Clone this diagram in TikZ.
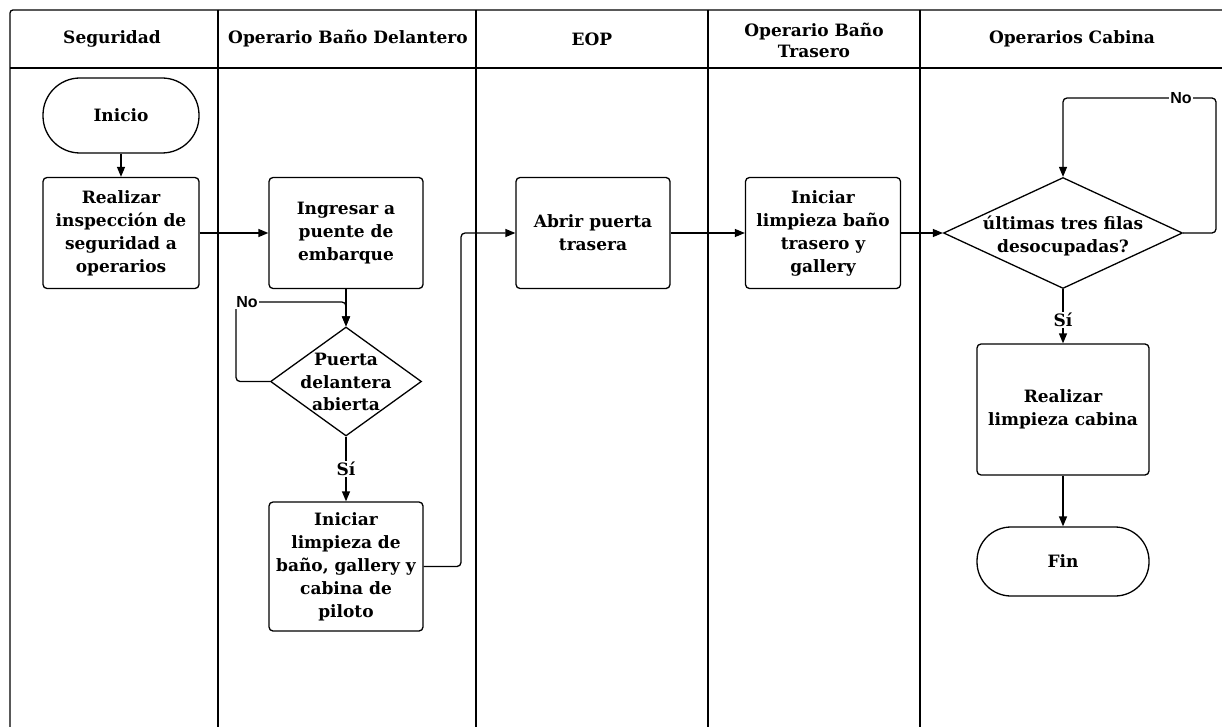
\documentclass[tikz,border=0pt]{standalone}
\usepackage{fontspec}
\setmainfont{DejaVu Serif}
\newfontfamily\labelsans{Liberation Sans}
\usetikzlibrary{arrows.meta,shapes.geometric}
\begin{document}
\begin{tikzpicture}[x=1pt,y=-1pt,
  lane/.style={line width=1.3pt},
  headtext/.style={align=center,inner sep=0pt,font=\bfseries\fontsize{17}{21}\selectfont},
  procbox/.style={draw,line width=1.3pt,rounded corners=4pt,align=center,inner sep=0pt,
    font=\bfseries\fontsize{17}{23}\selectfont},
  termbox/.style={procbox},
  decbox/.style={draw,diamond,line width=1.3pt,inner sep=0pt},
  dectext/.style={align=center,inner sep=0pt,font=\bfseries\fontsize{17}{22.5}\selectfont},
  flow/.style={line width=1.3pt,-{Triangle[length=10pt,width=8pt]},rounded corners=4pt},
  yeslabel/.style={fill=white,inner sep=1pt,font=\bfseries\fontsize{17}{19}\selectfont},
  nolabel/.style={fill=white,inner sep=1pt,font=\labelsans\bfseries\fontsize{16}{18}\selectfont}
]
\clip (0,0) rectangle (1222,727);
\fill[white] (0,0) rectangle (1222,727);

% swimlane frame and header row
\draw[lane,rounded corners=3pt] (10,760) -- (10,10) -- (1240,10);
\draw[lane] (10,68) -- (1240,68);
\foreach \xx in {218,476,708,920}
  \draw[lane] (\xx,10) -- (\xx,760);

\node[headtext] (h1) at (112,39) {Seguridad};
\node[headtext] (h2) at (348,39) {Operario Baño Delantero};
\node[headtext] (h3) at (592,39) {EOP};
\node[headtext] (h4) at (814,40) {Operario Baño\\Trasero};
\node[headtext] (h5) at (1072,39) {Operarios Cabina};

% Seguridad lane
\node[termbox,rounded corners=37pt,minimum width=156pt,minimum height=75pt] (inicio) at (121,115.5) {Inicio};
\node[procbox,minimum width=156pt,minimum height=111pt] (realizar) at (121,233) {Realizar\\inspección de\\seguridad a\\operarios};

% Operario Baño Delantero lane
\node[procbox,minimum width=154pt,minimum height=111pt] (ingresar) at (346,233) {Ingresar a\\puente de\\embarque};
\node[decbox,minimum width=151pt,minimum height=109pt] (d1) at (346,381.5) {};
\node[dectext] (d1t) at (346,382) {Puerta\\delantera\\abierta};
\node[procbox,minimum width=154pt,minimum height=129pt] (limpia1) at (346,566.5) {Iniciar\\limpieza de\\baño, gallery y\\cabina de\\piloto};

% EOP lane
\node[procbox,minimum width=154pt,minimum height=111pt] (abrir) at (593,233) {Abrir puerta\\trasera};

% Operario Baño Trasero lane
\node[procbox,minimum width=155pt,minimum height=111pt] (trasero) at (823,233) {Iniciar\\limpieza baño\\trasero y\\gallery};

% Operarios Cabina lane
\node[decbox,minimum width=239pt,minimum height=111pt] (d2) at (1063,233) {};
\node[dectext] (d2t) at (1063,236) {últimas tres filas\\desocupadas?};
\node[procbox,minimum width=172pt,minimum height=131pt] (cabina) at (1063,409.5) {Realizar\\limpieza cabina};
\node[termbox,rounded corners=34pt,minimum width=172pt,minimum height=69pt] (fin) at (1063,561.5) {Fin};

% connectors
\coordinate (noD1) at (236,302);
\coordinate (upEOP) at (461,233);
\coordinate (noD2) at (1216,98);

\draw[flow] (inicio) -- (realizar);
\draw[flow] (realizar) -- (ingresar);
\draw[flow] (ingresar) -- (d1);
\draw[flow] (d1.west) -| (noD1) -| (d1.north);
\node[nolabel] (no1) at (247,302) {No};
\draw[flow] (d1) -- (limpia1);
\node[yeslabel] (si1) at (346,469) {Sí};
\draw[flow] (limpia1.east) -| (upEOP) -- (abrir.west);
\draw[flow] (abrir) -- (trasero);
\draw[flow] (trasero) -- (d2);
\draw[flow] (d2.east) -| (noD2) -| (d2.north);
\node[nolabel] (no2) at (1181,98) {No};
\draw[flow] (d2) -- (cabina);
\node[yeslabel] (si2) at (1063,320) {Sí};
\draw[flow] (cabina) -- (fin);
\end{tikzpicture}
\end{document}
